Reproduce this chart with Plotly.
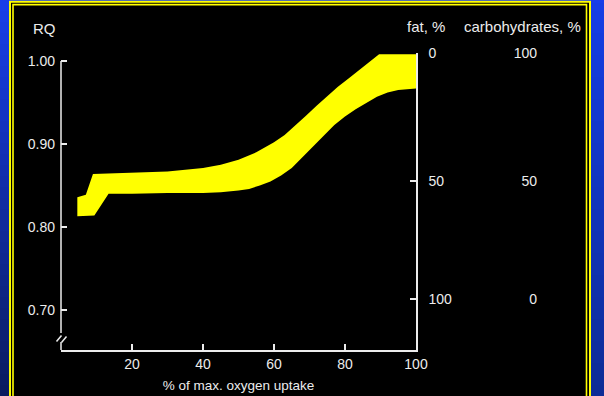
import plotly.graph_objects as go

# Respiratory quotient band vs. exercise intensity
upper_x = [4.6, 7.0, 9.0, 15, 20, 25, 30, 35, 40, 45, 50, 55, 60, 63, 66, 69, 72, 75, 78, 81, 84,
           87, 89.6, 100]
upper_rq = [0.836, 0.839, 0.864, 0.865, 0.865, 0.866, 0.867, 0.869, 0.871, 0.875, 0.881, 0.890,
            0.902, 0.911, 0.922, 0.934, 0.946, 0.958, 0.969, 0.979, 0.989, 0.999, 1.008, 1.008]

lower_x = [4.6, 9.4, 13.4, 20, 30, 40, 45, 50, 53, 56, 59, 62, 65, 68, 71, 74, 77, 80, 83, 86,
           89, 92, 95, 100]
lower_rq = [0.813, 0.814, 0.840, 0.840, 0.841, 0.841, 0.842, 0.844, 0.846, 0.850, 0.855, 0.862,
            0.871, 0.884, 0.897, 0.910, 0.923, 0.933, 0.942, 0.950, 0.957, 0.962, 0.965, 0.967]

x_ticks = [20, 40, 60, 80, 100]
rq_ticks = [0.70, 0.80, 0.90, 1.00]
fat_ticks = [0, 50, 100]
carb_ticks = [100, 50, 0]
fuel_tick_rq = [1.009, 0.855, 0.713]   # RQ level of each fat / carbohydrate label pair

W, H = 604, 396
ML, MR, MT, MB = 61, 20, 53, 46
PW, PH = W - ML - MR, H - MT - MB

TXT = "#ececec"
YEL = "#ffff00"
FONT = "Liberation Sans"


def px(x, y):
    """pixel position -> paper coordinates"""
    return (x - ML) / PW, (H - MB - y) / PH


def mix(c0, c1, t):
    return "rgb(%d,%d,%d)" % tuple(round(a + (b - a) * t) for a, b in zip(c0, c1))


shapes = []

# blue slide background with vertical shading
N = 36
for i in range(N):
    t = i / (N - 1)
    y0, y1 = H * i / N, H * (i + 1) / N + 0.6
    for xa, xb, c0, c1 in [(0, 12, (24, 62, 232), (10, 28, 96)),
                           (588, W, (22, 62, 228), (14, 44, 150))]:
        a, b = px(xa, y0), px(xb, y1)
        shapes.append(dict(type="rect", xref="paper", yref="paper", layer="below",
                           x0=a[0], x1=b[0], y0=a[1], y1=b[1],
                           fillcolor=mix(c0, c1, t), line=dict(width=0)))
a, b = px(0, 0), px(W, 3)
shapes.append(dict(type="rect", xref="paper", yref="paper", layer="below",
                   x0=a[0], x1=b[0], y0=a[1], y1=b[1],
                   fillcolor="rgb(24,62,232)", line=dict(width=0)))

# black panel with a double yellow border
a, b = px(10, 1.7), px(590, 430)
shapes.append(dict(type="rect", xref="paper", yref="paper", layer="below",
                   x0=a[0], x1=b[0], y0=a[1], y1=b[1],
                   fillcolor="black", line=dict(color=YEL, width=2)))
a, b = px(13, 4.6), px(586.5, 430)
shapes.append(dict(type="rect", xref="paper", yref="paper", layer="below",
                   x0=a[0], x1=b[0], y0=a[1], y1=b[1],
                   fillcolor="rgba(0,0,0,0)", line=dict(color=YEL, width=1.6)))

# left axis line with a break near the bottom
for (xa, ya), (xb, yb) in [((61, 61), (61, 333)), ((61, 342), (61, 350)),
                           ((56.5, 341.5), (61.5, 335.5)), ((61.5, 342.5), (66.5, 336.5))]:
    a, b = px(xa, ya), px(xb, yb)
    shapes.append(dict(type="line", xref="paper", yref="paper",
                       x0=a[0], x1=b[0], y0=a[1], y1=b[1],
                       line=dict(color=TXT, width=1.5)))

fig = go.Figure()
fig.add_trace(go.Scatter(
    x=upper_x + [lower_x[-1]] + lower_x[::-1],
    y=upper_rq + [lower_rq[-1]] + lower_rq[::-1],
    fill="toself", fillcolor=YEL, mode="lines",
    line=dict(width=0, color=YEL), hoverinfo="skip", showlegend=False,
))
# invisible traces carrying the two fuel-mixture axes
fig.add_trace(go.Scatter(x=[None], y=[None], yaxis="y2", showlegend=False))
fig.add_trace(go.Scatter(x=[None], y=[None], yaxis="y3", showlegend=False))

yr = [0.652, 1.0096]
tickfont = dict(family=FONT, size=14, color=TXT)

annotations = []
for text, xc, yc in [("RQ", 44, 28), ("fat, %", 426, 27), ("carbohydrates, %", 522, 27)]:
    ax, ay = px(xc, yc)
    annotations.append(dict(text=text, x=ax, y=ay, xref="paper", yref="paper",
                            xanchor="center", yanchor="middle", showarrow=False,
                            font=dict(family=FONT, size=15, color=TXT)))

fig.update_layout(
    width=W, height=H,
    margin=dict(l=ML, r=MR, t=MT, b=MB, pad=0, autoexpand=False),
    paper_bgcolor="rgb(16,44,170)",
    plot_bgcolor="rgba(0,0,0,0)",
    showlegend=False,
    shapes=shapes,
    annotations=annotations,
    xaxis=dict(
        domain=[0, (416 - ML) / PW], range=[0, 100], automargin=False,
        tickmode="array", tickvals=x_ticks, ticktext=[str(v) for v in x_ticks],
        ticks="inside", ticklen=6, tickwidth=1.5, tickcolor=TXT,
        showline=True, linecolor=TXT, linewidth=1.5,
        showgrid=False, zeroline=False, tickfont=tickfont,
        ticklabelstandoff=0,
        title=dict(text="% of max. oxygen uptake", standoff=10,
                   font=dict(family=FONT, size=13.5, color=TXT)),
    ),
    yaxis=dict(
        range=yr, tickmode="array", tickvals=rq_ticks, automargin=False,
        ticktext=["%.2f" % v for v in rq_ticks],
        ticks="inside", ticklen=6, tickwidth=1.5, tickcolor=TXT,
        showline=False, showgrid=False, zeroline=False, tickfont=tickfont,
        ticklabelstandoff=5,
    ),
    yaxis2=dict(
        overlaying="y", side="right", anchor="x", range=yr, automargin=False,
        tickmode="array", tickvals=fuel_tick_rq, ticktext=[str(v) for v in fat_ticks],
        ticks="", showline=True, linecolor=TXT, linewidth=1.5,
        showgrid=False, zeroline=False, tickfont=tickfont, ticklabelstandoff=8,
        minor=dict(tickmode="array", tickvals=fuel_tick_rq[1:], ticks="inside",
                   ticklen=6, tickwidth=1.5, tickcolor=TXT, showgrid=False),
    ),
    yaxis3=dict(
        overlaying="y", side="left", anchor="free", position=(537 - ML) / PW, range=yr,
        automargin=False,
        tickmode="array", tickvals=fuel_tick_rq, ticktext=[str(v) for v in carb_ticks],
        ticks="", showline=False, showgrid=False, zeroline=False, tickfont=tickfont,
    ),
)

fig.write_html("out.html")
